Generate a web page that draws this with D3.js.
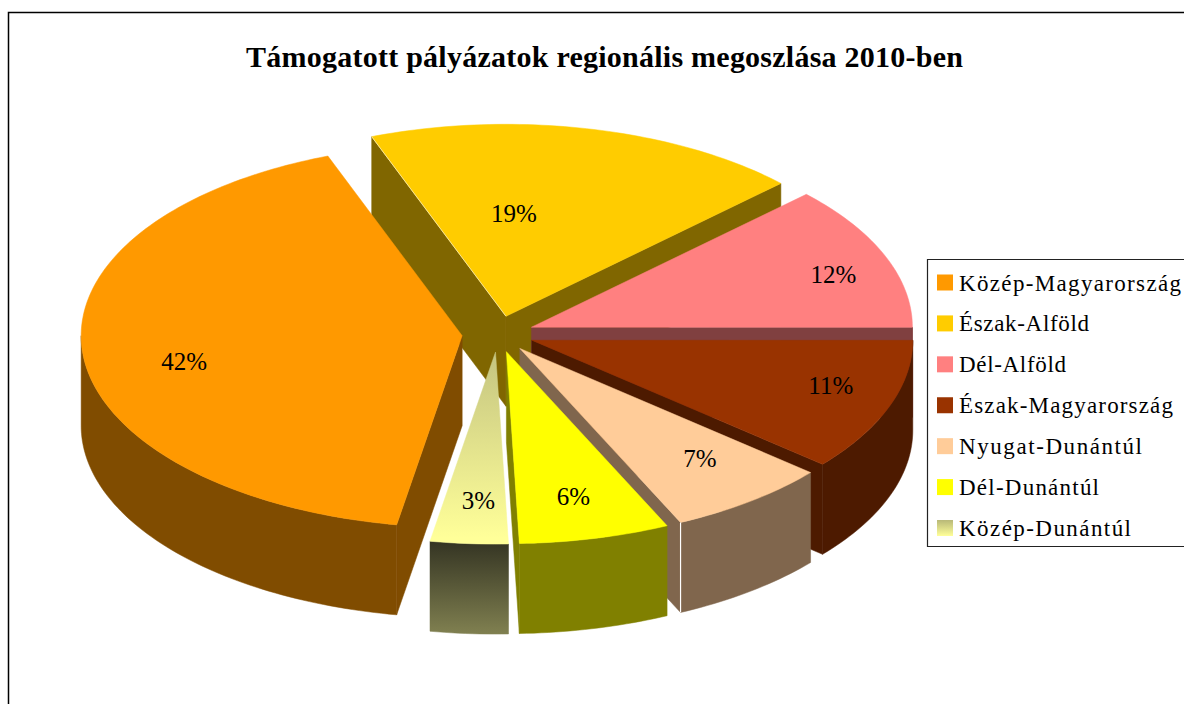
<!DOCTYPE html>
<html><head><meta charset="utf-8">
<script src="https://cdn.jsdelivr.net/npm/d3@7/dist/d3.min.js"></script>
<style>html,body{margin:0;background:#fff}svg{display:block}text{font-family:"Liberation Serif","Times New Roman",serif;fill:#000}</style>
</head><body><svg id="c" width="1184" height="704"></svg>
<script>
const titleText = "Támogatott pályázatok regionális megoszlása 2010-ben";
const categories = ["Közép-Magyarország","Észak-Alföld","Dél-Alföld","Észak-Magyarország","Nyugat-Dunántúl","Dél-Dunántúl","Közép-Dunántúl"];
const values = [41.6,18.6,12.2,11.2,6.9,6.4,3.3];
const topColors = ["#FF9900","#FFCC00","#FF8080","#993300","#FFCC99","#FFFF00","url(#paleTop)"];
const sideColors = ["#804C00","#806600","#804040","#4D1A00","#80664D","#808000","url(#paleSide)"];
const paintOrder = [1,2,3,4,5,6,0];
// label offset from each slice's apex, in pixels
const labelDx = [-278,8,302,299,180,67,-17];
const labelDy = [29,-100,-50,48,113,148,151];
// measured legend text widths, in pixels
const legendWidths = [222,130,107,214,183,140,172];

const W=1184,H=704, cx=498, cy=334, rx=381, ry=192, depth=90, explode=36, startDeg=189.9;
const svg=d3.select("#c");
const defs=svg.append("defs");
function grad(id,stops,attrs){
  const g=defs.append("linearGradient").attr("id",id).attr("x1",0).attr("x2",0).attr("y1",0).attr("y2",1);
  if(attrs){g.attr("gradientUnits","userSpaceOnUse").attr("x1",0).attr("x2",0).attr("y1",attrs[0]).attr("y2",attrs[1]);}
  stops.forEach(s=>g.append("stop").attr("offset",s[0]).attr("stop-color",s[1]));
}
grad("paleTop",[[0,"#C4C480"],[1,"#FFFF99"]],[352,538]);
grad("paleSide",[[0,"#333322"],[1,"#808050"]],[540,634]);
grad("paleSwatch",[[0,"#B8B878"],[1,"#FFFF99"]]);

// chart frame
svg.append("path").attr("d",`M8.5,${H} V12.5 H${W}`).attr("fill","none").attr("stroke","#000").attr("stroke-width",1.5);
svg.append("text").attr("x",604.5).attr("y",67).attr("text-anchor","middle").attr("font-size",30).attr("font-weight","bold").attr("textLength",717).text(titleText);

const pie=d3.pie().sort(null).startAngle(startDeg*Math.PI/180).endAngle((startDeg+360)*Math.PI/180);
const arcs=pie(values);
const px=d3.scaleLinear().domain([-1,1]).range([cx-rx,cx+rx]);
const py=d3.scaleLinear().domain([-1,1]).range([cy+ry,cy-ry]);
const line=d3.line().x(d=>d[0]).y(d=>d[1]);
const front=[Math.PI/2,Math.PI*3/2];

function apex(a){const m=(a.startAngle+a.endAngle)/2;const e=explode/rx;return [px(Math.sin(m)*e),py(Math.cos(m)*e)];}
function rim(a,t){const m=(a.startAngle+a.endAngle)/2;const e=explode/rx;return [px(Math.sin(t)+Math.sin(m)*e),py(Math.cos(t)+Math.cos(m)*e)];}
function samples(t0,t1){const n=Math.max(2,Math.ceil((t1-t0)/0.02));return d3.range(n+1).map(i=>t0+(t1-t0)*i/n);}
const down=p=>[p[0],p[1]+depth];

const g=svg.append("g");
paintOrder.forEach(i=>{
  const a=arcs[i], A=apex(a), c=sideColors[i];
  const poly=(pts)=>g.append("path").attr("d",line(pts)+"Z").attr("fill",c).attr("stroke",c).attr("stroke-width",0.5);
  // radial walls that face the viewer
  if(Math.sin(a.startAngle)<0){const R=rim(a,a.startAngle);poly([A,R,down(R),down(A)]);}
  if(Math.sin(a.endAngle)>0){const R=rim(a,a.endAngle);poly([A,R,down(R),down(A)]);}
  // outer wall, front half only
  [0,2*Math.PI].forEach(shift=>{
    const t0=Math.max(a.startAngle,front[0]+shift), t1=Math.min(a.endAngle,front[1]+shift);
    if(t1>t0){
      const up=samples(t0,t1).map(t=>rim(a,t));
      poly(up.concat(up.slice().reverse().map(down)));
    }
  });
  // top face
  const ts=samples(a.startAngle,a.endAngle).map(t=>rim(a,t));
  g.append("path").attr("d",line([A].concat(ts))+"Z").attr("fill",topColors[i]).attr("stroke",topColors[i]).attr("stroke-width",0.5);
  // thin light edges seen in the original
  if(i===4){const R=rim(a,a.endAngle);g.append("path").attr("d",line([R,down(R)])).attr("stroke","#fff").attr("stroke-width",1.2).attr("fill","none");}
  if(i===1){const R=rim(a,a.startAngle);g.append("path").attr("d",line([R,A])).attr("stroke","#fff").attr("stroke-width",0.7).attr("stroke-opacity",0.8).attr("fill","none");}
});
// data labels
const total=d3.sum(values);
arcs.forEach((a,i)=>{
  const A=apex(a);
  g.append("text").attr("x",A[0]+labelDx[i]).attr("y",A[1]+labelDy[i]).attr("text-anchor","middle").attr("dominant-baseline","middle")
   .attr("font-size",25).text(d3.format(".0%")(a.value/total));
});
// legend
const ly=d3.scalePoint().domain(categories).range([282.5,528]);
svg.append("path").attr("d",`M${W},259.5 H927.5 V546.5 H${W}`).attr("fill","#fff").attr("stroke","#222").attr("stroke-width",1.2);
const swatch=topColors.map((c,i)=>i===6?"url(#paleSwatch)":c);
categories.forEach((n,i)=>{
  svg.append("rect").attr("x",937).attr("y",ly(n)-8).attr("width",16).attr("height",16).attr("fill",swatch[i]);
  svg.append("text").attr("x",959).attr("y",ly(n)+8).attr("font-size",23).attr("textLength",legendWidths[i]).attr("lengthAdjust","spacing").text(n);
});
</script></body></html>
